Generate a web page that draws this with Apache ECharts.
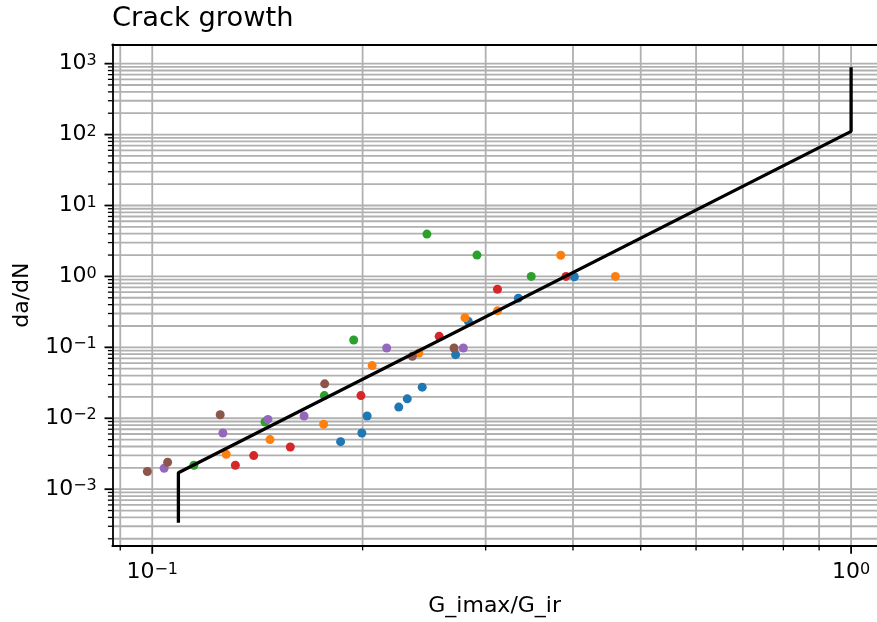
<!DOCTYPE html>
<html>
<head>
<meta charset="utf-8">
<title>Crack growth</title>
<script src="https://cdn.jsdelivr.net/npm/echarts@6/dist/echarts.min.js"></script>
<style>
  html, body { margin: 0; padding: 0; background: #fff; }
  #chart { width: 877px; height: 622px; }
</style>
</head>
<body>
<div id="chart"></div>
<script>
// Energy release ratio G_imax/G_ir and crack growth rate da/dN per specimen
const specimen1G    = [0.186, 0.1995, 0.203, 0.2253, 0.2317, 0.2434, 0.2717, 0.2833, 0.3341, 0.4018];
const specimen1Rate = [0.00468, 0.0062, 0.01075, 0.01438, 0.0188, 0.02747, 0.0788, 0.2324, 0.494, 0.99];

const specimen2G    = [0.1276, 0.1474, 0.1759, 0.2064, 0.2408, 0.2802, 0.3119, 0.3842, 0.46];
const specimen2Rate = [0.0031, 0.005, 0.00824, 0.0553, 0.0833, 0.261, 0.327, 1.985, 1.0];

const specimen3G    = [0.1147, 0.145, 0.1763, 0.1942, 0.2472, 0.2915, 0.3486];
const specimen3Rate = [0.002175, 0.00885, 0.02086, 0.1269, 3.95, 2.0, 1.0];

const specimen4G    = [0.1315, 0.1397, 0.1576, 0.1989, 0.2574, 0.3119, 0.3909];
const specimen4Rate = [0.002175, 0.002975, 0.00394, 0.02086, 0.143, 0.66, 1.0];

const specimen5G    = [0.104, 0.1262, 0.1464, 0.1649, 0.2165, 0.2787];
const specimen5Rate = [0.00197, 0.0062, 0.00963, 0.01075, 0.098, 0.098];

const specimen6G    = [0.0984, 0.1052, 0.1251, 0.1765, 0.2356, 0.2703];
const specimen6Rate = [0.001773, 0.002395, 0.0112, 0.03056, 0.0749, 0.098];

// Power-law growth curve with its threshold and fracture cut-offs
const curveG    = [0.109, 0.109, 1.0, 1.0];
const curveRate = [3.35e-4, 1.7e-3, 111, 890];

// Axis ranges and tick positions
const xRange = [0.08767, 1.0891];
const yRange = [1.581e-4, 1874];
const xMajorTicks = [0.1, 1];
const xMinorTicks = [0.09, 0.2, 0.3, 0.4, 0.5, 0.6, 0.7, 0.8, 0.9];
const yMajorTicks = [1e-3, 1e-2, 1e-1, 1, 10, 100, 1000];
const yMinorTicks = [];
for (let e = -4; e <= 2; e++) {
  for (let m = 2; m <= 9; m++) {
    const v = m * Math.pow(10, e);
    if (v > yRange[0] && v < yRange[1]) yMinorTicks.push(v);
  }
}

const palette = ['#1f77b4', '#ff7f0e', '#2ca02c', '#d62728', '#9467bd', '#8c564b'];
const groups = [
  [specimen1G, specimen1Rate],
  [specimen2G, specimen2Rate],
  [specimen3G, specimen3Rate],
  [specimen4G, specimen4Rate],
  [specimen5G, specimen5Rate],
  [specimen6G, specimen6Rate]
];

const FONT = 'DejaVu Sans';
const GRID_COLOR = '#b0b0b0';
const X_REF = 0.5;   // any x inside the range, used to place horizontal rules
const Y_REF = 1;     // any y inside the range, used to place vertical rules

function pairs(xs, ys) { return xs.map((x, i) => [x, ys[i]]); }

function powerLabel(v) {
  const e = Math.round(Math.log10(v));
  const exp = e < 0 ? '\u2212' + (-e) : String(e);
  return '{b|10}{s|' + exp + '}';
}

const labelRich = {
  b: { fontFamily: FONT, fontSize: 22, lineHeight: 22, color: '#000', verticalAlign: 'bottom' },
  s: { fontFamily: FONT, fontSize: 16, lineHeight: 11, color: '#000', verticalAlign: 'top' }
};

// Vertical grid rule plus tick mark below the x axis
function xRuleRenderer(major) {
  return function (params, api) {
    const cs = params.coordSys;
    const x = api.coord([api.value(0), Y_REF])[0];
    const bottom = cs.y + cs.height;
    return {
      type: 'group',
      children: [
        { type: 'line', shape: { x1: x, y1: cs.y, x2: x, y2: bottom },
          style: { stroke: GRID_COLOR, lineWidth: 1.8 } },
        { type: 'line', shape: { x1: x, y1: bottom, x2: x, y2: bottom + (major ? 7.8 : 4.4) },
          style: { stroke: '#000', lineWidth: major ? 1.8 : 1.3 } }
      ]
    };
  };
}

// Horizontal grid rule plus tick mark left of the y axis
function yRuleRenderer(major) {
  return function (params, api) {
    const cs = params.coordSys;
    const y = api.coord([X_REF, api.value(1)])[1];
    return {
      type: 'group',
      children: [
        { type: 'line', shape: { x1: cs.x, y1: y, x2: cs.x + cs.width, y2: y },
          style: { stroke: GRID_COLOR, lineWidth: 1.8 } },
        { type: 'line', shape: { x1: cs.x - (major ? 7.8 : 4.4), y1: y, x2: cs.x, y2: y },
          style: { stroke: '#000', lineWidth: major ? 1.8 : 1.3 } }
      ]
    };
  };
}

const series = [
  { type: 'custom', silent: true, z: 1, renderItem: xRuleRenderer(true),
    data: xMajorTicks.map(v => [v, Y_REF]) },
  { type: 'custom', silent: true, z: 1, renderItem: xRuleRenderer(false),
    data: xMinorTicks.map(v => [v, Y_REF]) },
  { type: 'custom', silent: true, z: 1, renderItem: yRuleRenderer(true),
    data: yMajorTicks.map(v => [X_REF, v]) },
  { type: 'custom', silent: true, z: 1, renderItem: yRuleRenderer(false),
    data: yMinorTicks.map(v => [X_REF, v]) }
];

groups.forEach((g, i) => {
  series.push({
    type: 'scatter',
    z: 3,
    symbol: 'circle',
    symbolSize: 9,
    itemStyle: { color: palette[i], opacity: 1 },
    data: pairs(g[0], g[1])
  });
});

series.push({
  type: 'line',
  z: 4,
  symbol: 'none',
  lineStyle: { color: '#000', width: 3.3 },
  data: pairs(curveG, curveRate)
});

const axisText = { fontFamily: FONT, fontSize: 22, lineHeight: 22, color: '#000' };
const spine = { show: true, lineStyle: { color: '#000', width: 1.8 } };

const chart = echarts.init(document.getElementById('chart'), null, { renderer: 'canvas' });
chart.setOption({
  animation: false,
  backgroundColor: '#fff',
  title: {
    text: 'Crack growth',
    left: 112,
    top: 5.5,
    padding: 0,
    textStyle: { fontFamily: FONT, fontSize: 27.3, lineHeight: 27, fontWeight: 'normal', color: '#000' }
  },
  grid: { left: 112.3, top: 44.3, bottom: 74.3, right: 0, show: false },
  xAxis: [
    {
      type: 'log',
      logBase: 10,
      min: xRange[0],
      max: xRange[1],
      z: 10,
      name: 'G_imax/G_ir',
      nameLocation: 'middle',
      nameGap: 49,
      nameTextStyle: axisText,
      axisLine: spine,
      axisTick: { show: false },
      splitLine: { show: false },
      minorTick: { show: false },
      axisLabel: {
        margin: 15.7,
        showMinLabel: false,
        showMaxLabel: false,
        formatter: powerLabel,
        rich: labelRich
      }
    },
    {
      // top frame edge
      type: 'log',
      position: 'top',
      min: xRange[0],
      max: xRange[1],
      z: 10,
      axisLine: spine,
      axisTick: { show: false },
      axisLabel: { show: false },
      splitLine: { show: false }
    }
  ],
  yAxis: {
    type: 'log',
    logBase: 10,
    min: yRange[0],
    max: yRange[1],
    z: 10,
    name: 'da/dN',
    nameLocation: 'middle',
    nameGap: 79,
    nameTextStyle: axisText,
    axisLine: spine,
    axisTick: { show: false },
    splitLine: { show: false },
    minorTick: { show: false },
    axisLabel: {
      margin: 15.5,
      showMinLabel: false,
      showMaxLabel: false,
      formatter: powerLabel,
      rich: labelRich
    }
  },
  series: series
});
</script>
</body>
</html>
